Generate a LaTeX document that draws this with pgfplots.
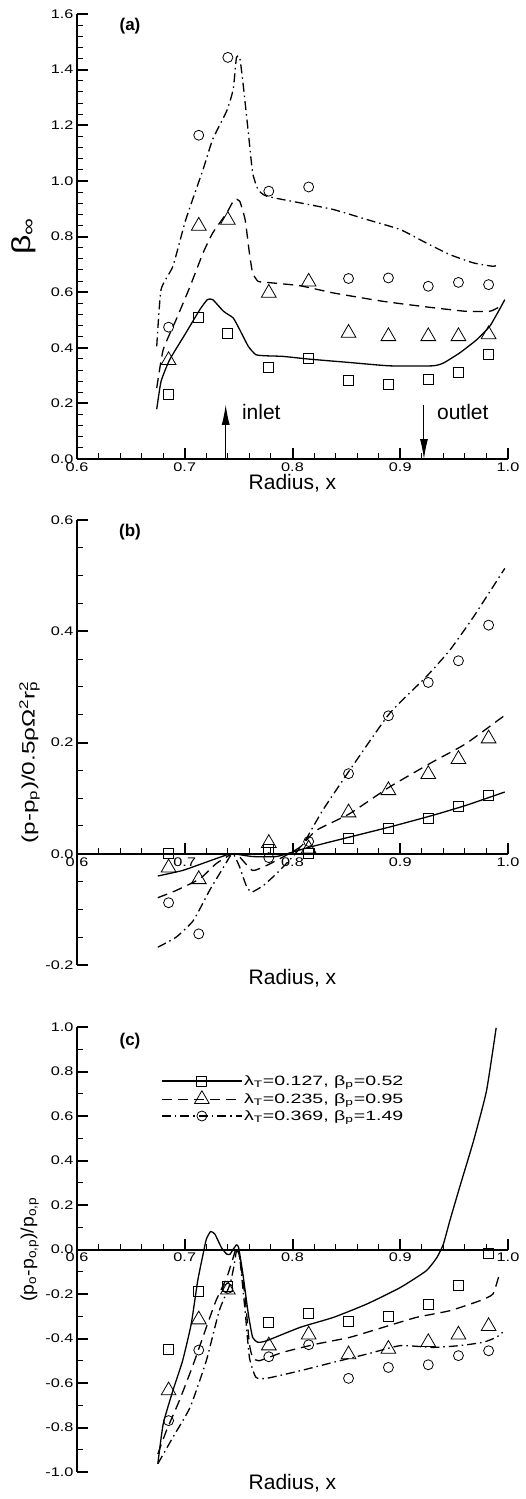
\documentclass[border=0pt]{standalone}
\usepackage{fontspec}
\setmainfont{Liberation Sans}
\usepackage{graphicx}
\usepackage{pgfplots}
\usepackage{pgfplotstable}
\pgfplotsset{compat=1.18}
\usetikzlibrary{arrows.meta}

\pgfplotstableread{
x sq tri circ
0.685 0.231 0.355 0.474
0.713 0.509 0.838 1.164
0.740 0.453 0.859 1.444
0.778 0.329 0.597 0.963
0.815 0.360 0.637 0.978
0.852 0.282 0.453 0.649
0.889 0.267 0.441 0.651
0.926 0.285 0.441 0.621
0.954 0.312 0.441 0.635
0.982 0.375 0.448 0.627
}\markA

\pgfplotstableread{
x sq tri circ
0.685 0.000 -0.025 -0.088
0.713 nan -0.046 -0.144
0.778 0.007 0.019 -0.007
0.815 0.000 0.009 0.022
0.852 0.028 0.074 0.144
0.889 0.045 0.114 0.248
0.926 0.063 0.143 0.308
0.954 0.085 0.170 0.347
0.982 0.105 0.207 0.411
}\markB

\pgfplotstableread{
x sq tri circ
0.685 -0.447 -0.634 -0.769
0.713 -0.186 -0.315 -0.452
0.740 -0.168 -0.181 -0.175
0.778 -0.328 -0.432 -0.482
0.815 -0.287 -0.383 -0.428
0.852 -0.323 -0.472 -0.579
0.889 -0.302 -0.447 -0.530
0.926 -0.245 -0.417 -0.518
0.954 -0.163 -0.383 -0.477
0.982 -0.018 -0.345 -0.455
}\markC

\newcommand\wide[2][1.3]{\scalebox{#1}[1]{#2}}

\tikzset{
  ptag/.style={font=\bfseries\fontsize{17}{20}\selectfont, inner sep=0pt},
  l1/.style={black, solid, line width=1.3pt, line join=round},
  l2/.style={black, line width=1.3pt, dash pattern=on 10pt off 6pt, line join=round},
  l3/.style={black, line width=1.3pt, dash pattern=on 9pt off 4pt on 1.5pt off 4pt, line join=round},
}
\pgfplotsset{
  tecaxis/.style={
    scale only axis, width=431pt, height=445pt,
    xmin=0.6, xmax=1.0,
    axis line style={line width=2pt, -},
    xtick={0.6,0.7,0.8,0.9,1.0},
    minor x tick num=4,
    tick align=inside,
    major tick length=11pt, minor tick length=6pt,
    every major tick/.style={line width=2pt, black},
    every minor tick/.style={line width=1pt, black},
    tick label style={font=\fontsize{12.5}{14}\selectfont},
    /pgf/number format/assume math mode=true,
    x tick label style={/pgf/number format/fixed, /pgf/number format/fixed zerofill, /pgf/number format/precision=1},
    y tick label style={/pgf/number format/fixed, /pgf/number format/fixed zerofill, /pgf/number format/precision=1},
    xticklabel={\wide{\pgfmathprintnumber{\tick}}},
    yticklabel={\wide{\pgfmathprintnumber{\tick}}},
    xlabel={Radius, x},
    xlabel style={font=\fontsize{21}{24}\selectfont, anchor=center},
    ylabel style={anchor=center},
    hide obscured x ticks=false,
    clip=false,
  },
  msq/.style={black, only marks, mark=square, mark size=5pt, mark options={solid, line width=0.8pt}},
  mtri/.style={black, only marks, mark=triangle, mark size=8.5pt, mark options={solid, line width=0.8pt}},
  mcirc/.style={black, only marks, mark=o, mark size=5pt, mark options={solid, line width=0.8pt}},
}

\begin{document}
\begin{tikzpicture}
\path[use as bounding box] (0,0) rectangle (526pt,-1499pt);

% ---------------- (a) ----------------
\begin{axis}[axis x line=bottom, axis y line=left, tecaxis,
  at={(77pt,-459pt)}, anchor=south west,
  ymin=0, ymax=1.6, ytick={0,0.2,0.4,0.6,0.8,1.0,1.2,1.4,1.6}, minor y tick num=4,
  ylabel={\wide{β\textsubscript{∞}}},
  ylabel style={font=\fontsize{26}{28}\selectfont, at={(axis description cs:-0.123,0.5)}},
  xlabel style={at={(axis description cs:0.5,-0.055)}},
]
\addplot[l1, smooth, tension=0.3] coordinates {
(0.674,0.179) (0.678,0.279) (0.686,0.357) (0.701,0.453) (0.714,0.537) (0.721,0.573)
(0.726,0.573) (0.736,0.531) (0.745,0.507) (0.751,0.465) (0.759,0.405) (0.766,0.375)
(0.776,0.371) (0.791,0.369) (0.816,0.359) (0.853,0.347) (0.890,0.335) (0.930,0.335)
(0.940,0.345) (0.955,0.381) (0.971,0.429) (0.983,0.477) (0.992,0.537) (0.997,0.573)};
\addplot[l2, smooth, tension=0.3] coordinates {
(0.674,0.255) (0.680,0.393) (0.692,0.501) (0.705,0.621) (0.717,0.741) (0.726,0.813)
(0.739,0.885) (0.746,0.933) (0.751,0.927) (0.756,0.861) (0.760,0.741) (0.763,0.669)
(0.768,0.639) (0.776,0.635) (0.807,0.623) (0.838,0.597) (0.884,0.567) (0.924,0.547)
(0.961,0.531) (0.983,0.531) (0.992,0.547)};
\addplot[l3, smooth, tension=0.3] coordinates {
(0.674,0.405) (0.678,0.609) (0.689,0.693) (0.701,0.861) (0.717,1.041) (0.726,1.150)
(0.739,1.252) (0.745,1.330) (0.748,1.444) (0.751,1.444) (0.754,1.354) (0.759,1.174)
(0.763,1.029) (0.768,0.969) (0.776,0.945) (0.807,0.921) (0.838,0.897) (0.869,0.861)
(0.900,0.825) (0.924,0.777) (0.946,0.735) (0.968,0.705) (0.986,0.693) (0.992,0.699)};
\addplot[msq] table[x=x, y=sq] {\markA};
\addplot[mtri] table[x=x, y=tri] {\markA};
\addplot[mcirc] table[x=x, y=circ] {\markA};
\draw[line width=1pt, -{Latex[length=20pt, width=8pt]}] (axis cs:0.738,0) -- (axis cs:0.738,0.195);
\draw[line width=1pt, -{Latex[length=20pt, width=8pt]}] (axis cs:0.922,0.195) -- (axis cs:0.922,0);
\node[font=\fontsize{21}{24}\selectfont, anchor=west, inner sep=0pt] at (axis cs:0.753,0.170) {inlet};
\node[font=\fontsize{21}{24}\selectfont, anchor=west, inner sep=0pt] at (axis cs:0.934,0.170) {outlet};
\node[ptag] at (axis description cs:0.123,0.973) {(a)};
\end{axis}

% ---------------- (b) ----------------
\begin{axis}[axis x line=middle, axis y line=left, tecaxis,
  at={(77pt,-965pt)}, anchor=south west,
  ymin=-0.2, ymax=0.6, ytick={-0.2,0,0.2,0.4,0.6}, minor y tick num=3,
  ylabel={\wide[1.35]{(p-p\textsubscript{p})/0.5ρΩ\textsuperscript{2}r\rlap{\textsuperscript{2}}\textsubscript{p}}},
  ylabel style={font=\fontsize{18}{20}\selectfont, at={(axis description cs:-0.110,0.456)}},
  xlabel style={at={(axis description cs:0.5,-0.029)}},
]
\addplot[l1, smooth, tension=0.3] coordinates {
(0.675,-0.040) (0.698,-0.030) (0.720,-0.015) (0.739,-0.002) (0.745,0) (0.763,-0.005)
(0.785,-0.005) (0.800,0.003) (0.816,0.012) (0.853,0.030) (0.890,0.048) (0.930,0.069)
(0.961,0.087) (0.997,0.111)};
\addplot[l2, smooth, tension=0.3] coordinates {
(0.675,-0.079) (0.692,-0.066) (0.714,-0.045) (0.729,-0.018) (0.742,-0.002) (0.745,0)
(0.751,-0.006) (0.763,-0.030) (0.776,-0.021) (0.791,-0.006) (0.807,0.012) (0.822,0.042)
(0.853,0.072) (0.890,0.120) (0.930,0.165) (0.961,0.198) (0.997,0.249)};
\addplot[l3, smooth, tension=0.3] coordinates {
(0.675,-0.168) (0.692,-0.150) (0.708,-0.120) (0.723,-0.066) (0.736,-0.024) (0.743,-0.002)
(0.746,-0.003) (0.751,-0.024) (0.757,-0.057) (0.762,-0.069) (0.773,-0.057) (0.785,-0.036)
(0.797,-0.012) (0.810,0.018) (0.828,0.078) (0.853,0.150) (0.890,0.252) (0.924,0.318)
(0.946,0.366) (0.968,0.426) (0.997,0.513)};
\addplot[msq] table[x=x, y=sq] {\markB};
\addplot[mtri] table[x=x, y=tri] {\markB};
\addplot[mcirc] table[x=x, y=circ] {\markB};
\node[ptag] at (axis description cs:0.123,0.973) {(b)};
\end{axis}

% ---------------- (c) ----------------
\begin{axis}[axis x line=middle, axis y line=left, tecaxis,
  at={(77pt,-1472pt)}, anchor=south west,
  ymin=-1, ymax=1, ytick={-1,-0.8,-0.6,-0.4,-0.2,0,0.2,0.4,0.6,0.8,1.0}, minor y tick num=1,
  ylabel={\wide[1.08]{(p\textsubscript{o}-p\textsubscript{o,p})/p\textsubscript{o,p}}},
  ylabel style={font=\fontsize{18}{20}\selectfont, at={(axis description cs:-0.110,0.5)}},
  xlabel style={at={(axis description cs:0.5,-0.025)}},
  legend style={at={(axis description cs:0.195,0.895)}, anchor=north west, draw=none, fill=none,
    font=\fontsize{13.5}{15}\selectfont, inner sep=0pt, row sep=2.5pt,
    nodes={inner sep=1.5pt}},
  legend cell align=left,
  legend image code/.code={\draw[mark repeat=2, mark phase=2, #1] plot coordinates {(0pt,0pt) (40pt,0pt) (80pt,0pt)};},
]
\addplot[l1, smooth, tension=0.3, forget plot] coordinates {
(0.675,-0.963) (0.680,-0.784) (0.689,-0.634) (0.698,-0.500) (0.706,-0.335) (0.712,-0.141)
(0.717,-0.021) (0.720,0.046) (0.724,0.081) (0.728,0.069) (0.734,0.009) (0.739,-0.021)
(0.742,-0.021) (0.745,0.001) (0.748,0.021) (0.750,0.009) (0.754,-0.111) (0.759,-0.290)
(0.763,-0.395) (0.768,-0.417) (0.776,-0.410) (0.807,-0.350) (0.838,-0.305) (0.869,-0.245)
(0.900,-0.171) (0.924,-0.096) (0.934,-0.036) (0.940,0.024) (0.946,0.129) (0.955,0.278)
(0.968,0.488) (0.980,0.712) (0.989,0.996)};
\addplot[l2, smooth, tension=0.3, forget plot] coordinates {
(0.675,-0.919) (0.683,-0.814) (0.695,-0.679) (0.708,-0.515) (0.720,-0.350) (0.729,-0.230)
(0.739,-0.126) (0.745,-0.036) (0.748,0.009) (0.751,-0.036) (0.756,-0.215) (0.760,-0.425)
(0.763,-0.485) (0.769,-0.500) (0.791,-0.462) (0.822,-0.425) (0.853,-0.395) (0.884,-0.350)
(0.915,-0.305) (0.946,-0.275) (0.974,-0.230) (0.986,-0.200) (0.992,-0.111)};
\addplot[l3, smooth, tension=0.3, forget plot] coordinates {
(0.675,-0.963) (0.689,-0.844) (0.705,-0.709) (0.720,-0.500) (0.732,-0.275) (0.742,-0.156)
(0.746,-0.066) (0.748,-0.006) (0.751,-0.036) (0.756,-0.275) (0.760,-0.485) (0.766,-0.574)
(0.776,-0.579) (0.807,-0.545) (0.838,-0.507) (0.869,-0.470) (0.900,-0.432) (0.930,-0.440)
(0.955,-0.432) (0.977,-0.417) (0.989,-0.395) (0.995,-0.372)};
\addplot[msq, forget plot] table[x=x, y=sq] {\markC};
\addplot[mtri, forget plot] table[x=x, y=tri] {\markC};
\addplot[mcirc, forget plot] table[x=x, y=circ] {\markC};
\addlegendimage{l1, mark=square, mark size=5pt, mark options={solid, line width=0.8pt}}
\addlegendentry{\wide[1.45]{λ\textsubscript{T}=0.127, β\textsubscript{p}=0.52}}
\addlegendimage{l2, mark=triangle, mark size=8.5pt, mark options={solid, line width=0.8pt}}
\addlegendentry{\wide[1.45]{λ\textsubscript{T}=0.235, β\textsubscript{p}=0.95}}
\addlegendimage{l3, mark=o, mark size=5pt, mark options={solid, line width=0.8pt}}
\addlegendentry{\wide[1.45]{λ\textsubscript{T}=0.369, β\textsubscript{p}=1.49}}
\node[ptag] at (axis description cs:0.123,0.969) {(c)};
\end{axis}
\end{tikzpicture}
\end{document}
